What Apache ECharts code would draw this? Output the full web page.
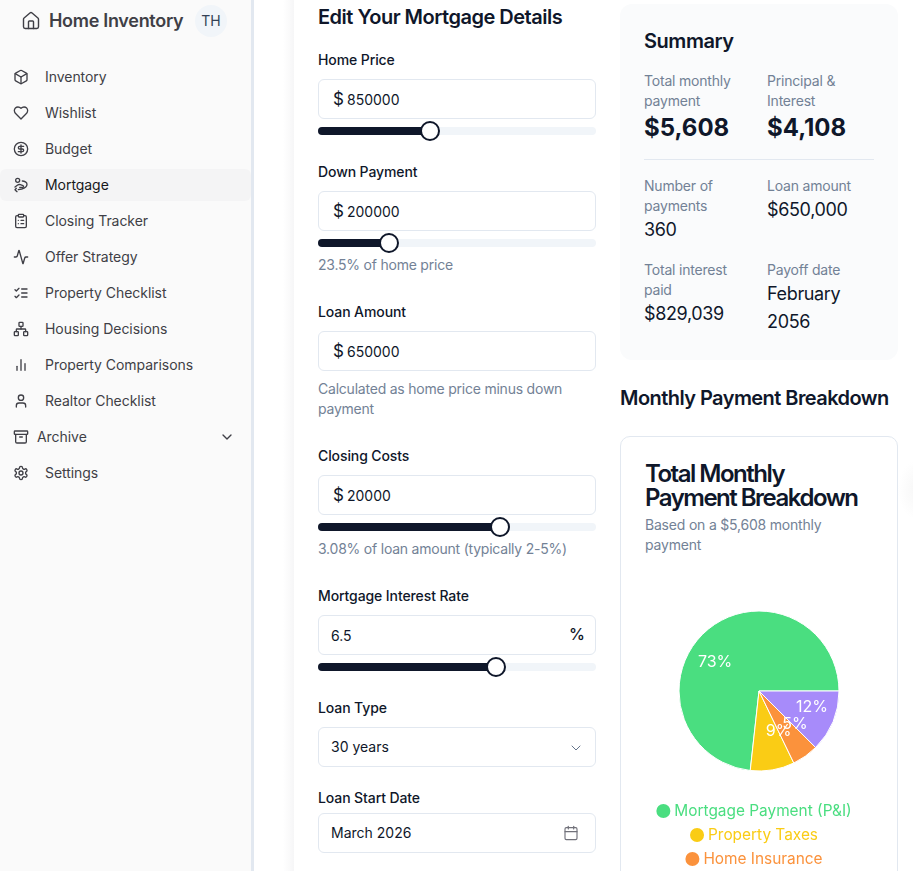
<!DOCTYPE html>
<html><head><meta charset="utf-8">
<script src="https://cdn.jsdelivr.net/npm/echarts@6/dist/echarts.min.js"></script>
<style>
html,body{margin:0;padding:0;background:#fff;width:913px;height:871px;overflow:hidden;font-family:Inter,"Noto Sans",sans-serif;color:#0f172a;-webkit-font-smoothing:antialiased}
.a{position:absolute;white-space:nowrap}
#side{position:absolute;left:0;top:0;width:251px;height:871px;background:#fafafa;border-right:3px solid #e2e8f0}
#shadow{position:absolute;left:283px;top:0;width:11px;height:871px;background:linear-gradient(90deg,#fff,#f6f6f7)}
.nav{position:absolute;left:45px;font-size:14px;line-height:20px;color:#3f3f46;white-space:nowrap;letter-spacing:-.05px}
.ic{position:absolute;left:13px;width:16px;height:16px;fill:none;stroke:#3f3f46;stroke-width:2;stroke-linecap:round;stroke-linejoin:round}
.lab{position:absolute;left:318px;font-size:14px;line-height:20px;font-weight:500;color:#0f172a;white-space:nowrap;letter-spacing:-.1px}
.inp{position:absolute;left:318px;width:276px;height:38px;border:1px solid #e2e8f0;border-radius:6px;background:#fff;font-size:14px;line-height:38px;color:#0f172a}
.inp span{position:absolute;left:28px;top:1px}
.inp b{position:absolute;left:14px;top:0;font-weight:400;font-size:17px}
.tr{position:absolute;left:318px;width:278px;height:8px;border-radius:4px;background:#f1f5f9}
.fl{position:absolute;left:0;top:0;height:8px;border-radius:4px;background:#0f172a}
.th{position:absolute;top:-6px;width:16px;height:16px;border:2px solid #0f172a;border-radius:50%;background:#fff}
.hint{position:absolute;left:318px;font-size:14px;line-height:20px;color:#64748b;white-space:nowrap;opacity:.9;letter-spacing:-.22px}
.sl{position:absolute;font-size:14px;line-height:20px;color:#64748b;white-space:nowrap;letter-spacing:-.2px;opacity:.9}
.sv{position:absolute;font-size:18px;line-height:28px;color:#0f172a;white-space:nowrap;letter-spacing:-.35px}
.sb{position:absolute;font-size:24px;line-height:32px;font-weight:700;color:#0f172a;white-space:nowrap}
</style></head><body>
<div id="side"></div>
<div id="shadow"></div>

<svg class="ic" style="left:21px;top:11px;width:20px;height:20px;stroke-width:1.7" viewBox="0 0 24 24"><path d="M15 21v-8a1 1 0 0 0-1-1h-4a1 1 0 0 0-1 1v8"/><path d="M3 10a2 2 0 0 1 .709-1.528l7-5.999a2 2 0 0 1 2.582 0l7 5.999A2 2 0 0 1 21 10v9a2 2 0 0 1-2 2H5a2 2 0 0 1-2-2z"/></svg>
<div class="a" style="left:49px;top:9px;font-size:18px;line-height:24px;font-weight:600;color:#3f3f46;letter-spacing:-.3px">Home Inventory</div>
<div class="a" style="left:195px;top:5px;width:32px;height:32px;border-radius:50%;background:#f1f5f9;text-align:center;font-size:14px;line-height:32px;color:#334155">TH</div>

<div class="a" style="left:0;top:169px;width:251px;height:32px;background:#f4f4f5;border-radius:6px"></div>
<div class="nav" style="top:67px">Inventory</div>
<div class="nav" style="top:103px">Wishlist</div>
<div class="nav" style="top:139px">Budget</div>
<div class="nav" style="top:175px;color:#18181b">Mortgage</div>
<div class="nav" style="top:211px">Closing Tracker</div>
<div class="nav" style="top:247px">Offer Strategy</div>
<div class="nav" style="top:283px">Property Checklist</div>
<div class="nav" style="top:319px">Housing Decisions</div>
<div class="nav" style="top:355px">Property Comparisons</div>
<div class="nav" style="top:391px">Realtor Checklist</div>
<div class="nav" style="top:427px;left:37px">Archive</div>
<div class="nav" style="top:463px">Settings</div>

<svg class="ic" style="top:69px" viewBox="0 0 24 24"><path d="M21 8a2 2 0 0 0-1-1.73l-7-4a2 2 0 0 0-2 0l-7 4A2 2 0 0 0 3 8v8a2 2 0 0 0 1 1.73l7 4a2 2 0 0 0 2 0l7-4A2 2 0 0 0 21 16Z"/><path d="m3.3 7 8.7 5 8.7-5"/><path d="M12 22V12"/></svg>
<svg class="ic" style="top:105px" viewBox="0 0 24 24"><path d="M19 14c1.49-1.46 3-3.21 3-5.5A5.5 5.5 0 0 0 16.5 3c-1.76 0-3 .5-4.5 2-1.5-1.5-2.74-2-4.5-2A5.5 5.5 0 0 0 2 8.5c0 2.3 1.5 4.05 3 5.5l7 7Z"/></svg>
<svg class="ic" style="top:141px" viewBox="0 0 24 24"><circle cx="12" cy="12" r="10"/><path d="M16 8h-6a2 2 0 1 0 0 4h4a2 2 0 1 1 0 4H8"/><path d="M12 18V6"/></svg>
<svg class="ic" style="top:177px" viewBox="0 0 24 24"><circle cx="7" cy="5" r="3"/><path d="m3 15 4-3c1-.7 2.5-1 4-.5l4 1.500c1.500.5 1 2.500-.5 2.500H10"/><path d="M14 6c3 0 7 2 7 5s-4 6-8 7l-5 1"/><path d="m5 17-2 2 3 3"/></svg>
<svg class="ic" style="top:213px" viewBox="0 0 24 24"><rect width="8" height="4" x="8" y="2" rx="1"/><path d="M16 4h2a2 2 0 0 1 2 2v14a2 2 0 0 1-2 2H6a2 2 0 0 1-2-2V6a2 2 0 0 1 2-2h2"/><path d="M12 11h4"/><path d="M12 16h4"/><path d="M8 11h.01"/><path d="M8 16h.01"/></svg>
<svg class="ic" style="top:249px" viewBox="0 0 24 24"><path d="M22 12h-2.480a2 2 0 0 0-1.930 1.460l-2.350 8.360a.25.25 0 0 1-.48 0L9.240 2.180a.25.25 0 0 0-.48 0l-2.350 8.360A2 2 0 0 1 4.490 12H2"/></svg>
<svg class="ic" style="top:285px" viewBox="0 0 24 24"><path d="m3 17 2 2 4-4"/><path d="m3 7 2 2 4-4"/><path d="M13 6h8"/><path d="M13 12h8"/><path d="M13 18h8"/></svg>
<svg class="ic" style="top:321px" viewBox="0 0 24 24"><rect x="16" y="16" width="6" height="6" rx="1"/><rect x="2" y="16" width="6" height="6" rx="1"/><rect x="9" y="2" width="6" height="6" rx="1"/><path d="M5 16v-3a1 1 0 0 1 1-1h12a1 1 0 0 1 1 1v3"/><path d="M12 12V8"/></svg>
<svg class="ic" style="top:357px" viewBox="0 0 24 24"><path d="M18 20V10"/><path d="M12 20V4"/><path d="M6 20v-6"/></svg>
<svg class="ic" style="top:393px" viewBox="0 0 24 24"><path d="M19 21v-2a4 4 0 0 0-4-4H9a4 4 0 0 0-4 4v2"/><circle cx="12" cy="7" r="4"/></svg>
<svg class="ic" style="top:429px" viewBox="0 0 24 24"><rect width="20" height="5" x="2" y="3" rx="1"/><path d="M4 8v11a2 2 0 0 0 2 2h12a2 2 0 0 0 2-2V8"/><path d="M10 12h4"/></svg>
<svg class="ic" style="left:219px;top:429px;stroke:#3f3f46" viewBox="0 0 24 24"><path d="m6 9 6 6 6-6"/></svg>
<svg class="ic" style="top:465px" viewBox="0 0 24 24"><path d="M12.220 2h-.440a2 2 0 0 0-2 2v.180a2 2 0 0 1-1 1.730l-.430.250a2 2 0 0 1-2 0l-.150-.080a2 2 0 0 0-2.730.730l-.220.380a2 2 0 0 0 .730 2.730l.150.100a2 2 0 0 1 1 1.720v.510a2 2 0 0 1-1 1.740l-.150.090a2 2 0 0 0-.730 2.730l.220.380a2 2 0 0 0 2.730.730l.150-.080a2 2 0 0 1 2 0l.430.250a2 2 0 0 1 1 1.730V20a2 2 0 0 0 2 2h.440a2 2 0 0 0 2-2v-.180a2 2 0 0 1 1-1.730l.430-.250a2 2 0 0 1 2 0l.150.080a2 2 0 0 0 2.730-.730l.220-.390a2 2 0 0 0-.730-2.730l-.150-.080a2 2 0 0 1-1-1.740v-.500a2 2 0 0 1 1-1.740l.150-.090a2 2 0 0 0 .730-2.730l-.220-.380a2 2 0 0 0-2.730-.730l-.150.080a2 2 0 0 1-2 0l-.430-.250a2 2 0 0 1-1-1.730V4a2 2 0 0 0-2-2z"/><circle cx="12" cy="12" r="3"/></svg>

<div class="a" style="left:318px;top:3px;font-size:20px;line-height:28px;font-weight:600;letter-spacing:-.5px">Edit Your Mortgage Details</div>

<div class="lab" style="top:50px">Home Price</div>
<div class="inp" style="top:79px"><b>$</b><span>850000</span></div>
<div class="tr" style="top:127px"><div class="fl" style="width:112px"></div><div class="th" style="left:102px"></div></div>

<div class="lab" style="top:162px">Down Payment</div>
<div class="inp" style="top:191px"><b>$</b><span>200000</span></div>
<div class="tr" style="top:239px"><div class="fl" style="width:71px"></div><div class="th" style="left:61px"></div></div>
<div class="hint" style="top:255px">23.5% of home price</div>

<div class="lab" style="top:302px">Loan Amount</div>
<div class="inp" style="top:331px"><b>$</b><span>650000</span></div>
<div class="hint" style="top:379px">Calculated as home price minus down</div>
<div class="hint" style="top:399px">payment</div>

<div class="lab" style="top:446px">Closing Costs</div>
<div class="inp" style="top:475px"><b>$</b><span>20000</span></div>
<div class="tr" style="top:523px"><div class="fl" style="width:182px"></div><div class="th" style="left:172px"></div></div>
<div class="hint" style="top:539px">3.08% of loan amount (typically 2-5%)</div>

<div class="lab" style="top:586px">Mortgage Interest Rate</div>
<div class="inp" style="top:615px"><span style="left:12px">6.5</span><b style="left:250px;font-size:16px;font-weight:500;top:-1px">%</b></div>
<div class="tr" style="top:663px"><div class="fl" style="width:178px"></div><div class="th" style="left:168px"></div></div>

<div class="lab" style="top:698px">Loan Type</div>
<div class="inp" style="top:727px"><span style="left:12px;top:0">30 years</span><svg class="ic" style="left:249px;top:12px;stroke:#64748b;stroke-width:1.5" viewBox="0 0 24 24"><path d="m6 9 6 6 6-6"/></svg></div>

<div class="lab" style="top:788px">Loan Start Date</div>
<div class="inp" style="top:813px"><span style="left:12px;top:0">March 2026</span><svg class="ic" style="left:244px;top:11px;stroke:#71717a;stroke-width:1.7" viewBox="0 0 24 24"><path d="M8 2v4"/><path d="M16 2v4"/><rect width="18" height="18" x="3" y="4" rx="2"/><path d="M3 10h18"/></svg></div>

<div class="a" style="left:620px;top:4px;width:278px;height:356px;background:#fafbfc;border-radius:12px"></div>
<div class="a" style="left:644px;top:27px;font-size:20px;line-height:28px;font-weight:600;letter-spacing:-.45px">Summary</div>
<div class="sl" style="left:644px;top:71px">Total monthly</div><div class="sl" style="left:644px;top:91px">payment</div>
<div class="sb" style="left:644px;top:112px">$5,608</div>
<div class="sl" style="left:767px;top:71px">Principal &amp;</div><div class="sl" style="left:767px;top:91px">Interest</div>
<div class="sb" style="left:767px;top:112px">$4,108</div>
<div class="a" style="left:644px;top:159px;width:230px;height:1px;background:#e2e8f0"></div>
<div class="sl" style="left:644px;top:176px">Number of</div><div class="sl" style="left:644px;top:196px">payments</div>
<div class="sv" style="left:644px;top:216px">360</div>
<div class="sl" style="left:767px;top:176px">Loan amount</div>
<div class="sv" style="left:767px;top:196px">$650,000</div>
<div class="sl" style="left:644px;top:260px">Total interest</div><div class="sl" style="left:644px;top:280px">paid</div>
<div class="sv" style="left:644px;top:300px">$829,039</div>
<div class="sl" style="left:767px;top:260px">Payoff date</div>
<div class="sv" style="left:767px;top:280px">February</div>
<div class="sv" style="left:767px;top:308px">2056</div>

<div class="a" style="left:620px;top:384px;font-size:20px;line-height:28px;font-weight:600;letter-spacing:-.56px">Monthly Payment Breakdown</div>
<div class="a" style="left:620px;top:436px;width:276px;height:460px;border:1px solid #e2e8f0;border-radius:10px;background:#fff"></div>
<div class="a" style="left:898px;top:460px;width:40px;height:60px;background:radial-gradient(closest-side,#f6f6f6,rgba(255,255,255,0))"></div>
<div class="a" style="left:645px;top:462px;font-size:24px;line-height:24px;font-weight:600;letter-spacing:-1.5px">Total Monthly</div>
<div class="a" style="left:645px;top:486px;font-size:24px;line-height:24px;font-weight:600;letter-spacing:-1.5px">Payment Breakdown</div>
<div class="sl" style="left:645px;top:515px">Based on a $5,608 monthly</div>
<div class="sl" style="left:645px;top:535px">payment</div>

<div id="chart" style="position:absolute;left:620px;top:570px;width:266px;height:301px"></div>

<script>
const categories = ["Mortgage Payment (P&I)", "Property Taxes", "Home Insurance", "HOA Fees"];
const seriesValues = [4108, 500, 300, 700];
const sliceColors = ["#4ade80", "#facc15", "#fb923c", "#a78bfa"];
const legendTops = [232, 256, 280, 304];
const pieCenter = [139, 121];
const labelRadius = 40;
const chart = echarts.init(document.getElementById("chart"), null, {renderer: "canvas"});
chart.setOption({
  animation: false,
  legend: categories.map((name, i) => ({
    left: "center",
    top: legendTops[i],
    padding: 0,
    icon: "circle",
    itemWidth: 16,
    itemHeight: 16,
    itemGap: 0,
    selectedMode: false,
    data: [{name, textStyle: {color: sliceColors[i]}}],
    textStyle: {fontFamily: "Inter", fontSize: 15.4, padding: [0, 0, 0, -2]}
  })),
  series: [{
    type: "pie",
    center: pieCenter,
    radius: [0, 80],
    startAngle: 0,
    clockwise: false,
    silent: true,
    data: categories.map((name, i) => ({name, value: seriesValues[i], itemStyle: {color: sliceColors[i]}})),
    itemStyle: {borderColor: "#fff", borderWidth: 1},
    label: {show: true, position: "inside", formatter: p => Math.round(p.percent) + "%", color: "#fff", fontFamily: "Inter", fontSize: 16, fontWeight: 400},
    labelLine: {show: false},
    labelLayout: p => {
      const r = p.labelRect;
      const vx = r.x + r.width / 2 - pieCenter[0];
      const vy = r.y + r.height / 2 - pieCenter[1];
      const k = labelRadius / Math.hypot(vx, vy) - 1;
      return {dx: vx * k + (vx >= 0 ? 1 : -1) * r.width / 2, dy: vy * k + 1};
    }
  }]
});
</script>
</body></html>
